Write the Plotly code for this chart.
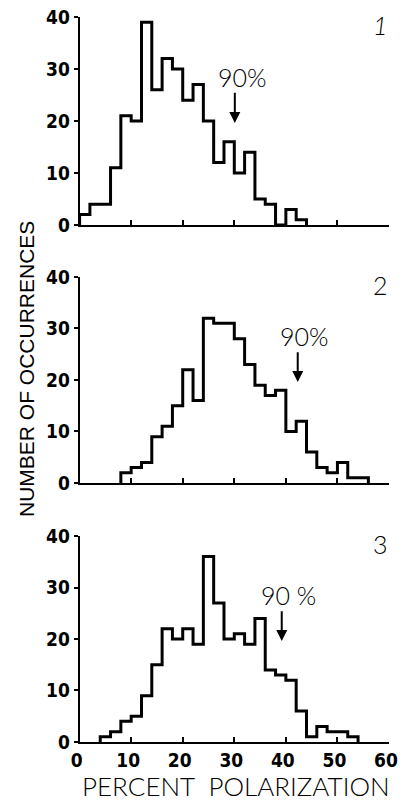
import plotly.graph_objects as go

# Histogram counts in 2% bins of percent polarization, one series per sample
bin_width = 2
start_1 = 0
counts_1 = [2, 4, 4, 11, 21, 20, 39, 26, 32, 30, 24, 27, 20, 12, 16, 10, 14, 5, 4, 0, 3, 1]
start_2 = 8
counts_2 = [2, 3, 4, 9, 11, 15, 22, 16, 32, 31, 31, 28, 23, 19, 17, 18, 10, 12, 6, 3, 2, 4, 1, 1]
start_3 = 4
counts_3 = [1, 2, 4, 5, 9, 15, 22, 20, 22, 19, 36, 27, 20, 21, 19, 24, 14, 13, 12, 6, 1, 3, 2, 2, 1]

# 90% level marker for each sample (percent polarization)
p90 = [30.1, 42.3, 39.2]
p90_text = ["90%", "90%", "90 %"]
panel_names = ["<i>1</i>", "2", "3"]

x_ticks = [0, 10, 20, 30, 40, 50, 60]
y_ticks = [0, 10, 20, 30, 40]

series = [(start_1, counts_1), (start_2, counts_2), (start_3, counts_3)]

# vertical placement of each panel (paper fractions)
domains = [[0.7191, 0.9788], [0.397, 0.6542], [0.0737, 0.3308]]
x_domain = [0.199, 0.9725]

tick_font = dict(family="Liberation Sans Narrow, Arial Narrow, DejaVu Sans Condensed, sans-serif",
                 size=19, color="black", weight="bold")
label_font = dict(family="Lato, Open Sans, sans-serif", size=25, color="black", weight=300)

fig = go.Figure()


def step_outline(start, counts):
    xs, ys = [start], [0]
    for i, c in enumerate(counts):
        left = start + i * bin_width
        xs += [left, left + bin_width]
        ys += [c, c]
    xs.append(start + len(counts) * bin_width)
    ys.append(0)
    return xs, ys


for k, (start, counts) in enumerate(series):
    n = "" if k == 0 else str(k + 1)
    xs, ys = step_outline(start, counts)
    fig.add_trace(go.Scatter(x=xs, y=ys, mode="lines",
                             line=dict(color="black", width=3),
                             xaxis="x" + n, yaxis="y" + n,
                             hoverinfo="skip", showlegend=False))

    last = k == 2
    fig.update_layout(**{
        "xaxis" + n: dict(domain=x_domain, anchor="y" + n, range=[0, 60],
                          tickvals=x_ticks, showticklabels=last,
                          ticks="inside", ticklen=5, tickwidth=2, tickcolor="black",
                          showline=True, linecolor="black", linewidth=2,
                          showgrid=False, zeroline=False, tickfont=tick_font,
                          ticklabeloverflow="allow", ticklabelstandoff=0,
                          ticklabelshift=-3,
                          automargin=False, fixedrange=True),
        "yaxis" + n: dict(domain=domains[k], anchor="x" + n, range=[0, 40],
                          tickvals=y_ticks, ticks="outside", ticklen=4,
                          tickwidth=2, tickcolor="black",
                          showline=True, linecolor="black", linewidth=2,
                          showgrid=False, zeroline=False, tickfont=tick_font,
                          ticklabelstandoff=0, automargin=False, fixedrange=True),
    })

    # 90% arrow and label
    xr, yr = "x" + n, "y" + n
    fig.add_annotation(x=p90[k], y=19.6, ax=p90[k], ay=25.7, xref=xr, yref=yr,
                       axref=xr, ayref=yr, text="", showarrow=True,
                       arrowhead=2, arrowsize=1.1, arrowwidth=2, arrowcolor="black")
    fig.add_annotation(x=p90[k] + 1.4, y=28.5, xref=xr, yref=yr, text=p90_text[k],
                       showarrow=False, font=label_font,
                       xanchor="center", yanchor="middle")
    # panel number
    fig.add_annotation(x=58.3, y=38.4, xref=xr, yref=yr, text=panel_names[k],
                       showarrow=False, xanchor="center", yanchor="middle",
                       font=dict(family="Lato, Open Sans, sans-serif", size=25,
                                 color="black", weight=300))

# axis titles
fig.add_annotation(x=26 / 400, y=1 - 369 / 801, xref="paper", yref="paper",
                   xanchor="center", yanchor="middle",
                   text="NUMBER OF OCCURRENCES", textangle=-90, showarrow=False,
                   font=dict(family="Liberation Sans, Arial, sans-serif",
                             size=21, color="black"))
fig.add_annotation(x=236 / 400, y=1 - 786 / 801, xref="paper", yref="paper",
                   xanchor="center", yanchor="middle",
                   text="PERCENT  POLARIZATION", showarrow=False,
                   font=dict(family="Lato, Open Sans, sans-serif", size=26,
                             color="black", weight=300))

fig.update_layout(width=400, height=801, margin=dict(l=0, r=0, t=0, b=0, autoexpand=False),
                  paper_bgcolor="white", plot_bgcolor="white")

fig.write_html("out.html", config={"displayModeBar": False})
